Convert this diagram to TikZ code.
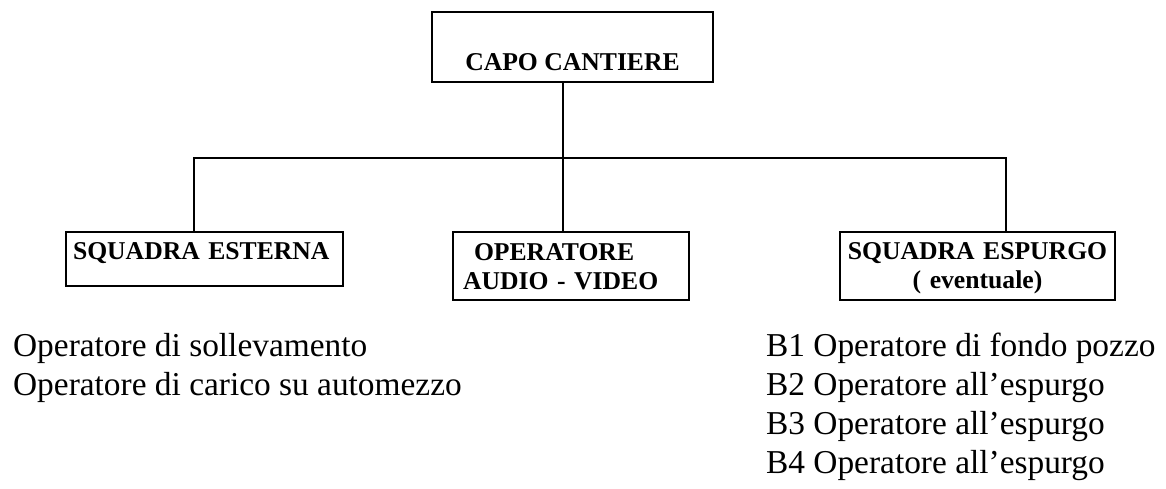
\documentclass[tikz,border=0pt]{standalone}
\usepackage{fontspec}
\setmainfont{Liberation Serif}
\usetikzlibrary{positioning,calc}

\begin{document}
\begin{tikzpicture}
   [x=0.02cm,y=-0.02cm,line width=1.3pt,
    box/.style={draw,rectangle,inner sep=0pt,font=\fontsize{14.6}{16.6}\bfseries\selectfont},
    item/.style={anchor=base west,inner sep=0pt,font=\fontsize{19}{22}\selectfont}]
\pgfmathsetmacro{\u}{0.02}
\useasboundingbox (0,0) rectangle (1166,488);

\node[box,minimum width=281*\u cm,minimum height=70*\u cm,text height=0.92cm,text depth=0pt]
   (capo) at (572.5,47) {CAPO CANTIERE};
\node[box,minimum width=277*\u cm,minimum height=54*\u cm,inner xsep=7*\u cm,text width=263*\u cm,
   align=left,text height=0.5cm,text depth=0.5cm] (esterna) at (204.5,259) {SQUADRA ESTERNA};
\node[box,minimum width=236*\u cm,minimum height=68*\u cm,inner xsep=10*\u cm,text width=216*\u cm,
   align=left,text height=0.5cm,text depth=0.74cm] (audio) at (571,266) {\hspace*{0.22cm}OPERATORE\\AUDIO - VIDEO};
\node[box,minimum width=275*\u cm,minimum height=68*\u cm,inner xsep=3*\u cm,text width=269*\u cm,
   align=center,text height=0.45cm,text depth=0.73cm] (espurgo) at (977.5,266) {SQUADRA ESPURGO\\( eventuale)};

\coordinate (busL) at (194,158);
\coordinate (busM) at (563,158);
\coordinate (busR) at (1006,158);
\draw (busL |- esterna.north) -- (busL) -- (busR) -- (busR |- espurgo.north);
\draw (busM |- capo.south) -- (busM |- audio.north);

\node[item] (sollev) at (12,356) {Operatore di sollevamento};
\node[item] (carico) at (12,395) {Operatore di carico su automezzo};

\node[item] (b1) at (765,356) {B1 Operatore di fondo pozzo};
\node[item] (b2) at (765,395) {B2 Operatore all’espurgo};
\node[item] (b3) at (765,434) {B3 Operatore all’espurgo};
\node[item] (b4) at (765,473) {B4 Operatore all’espurgo};
\end{tikzpicture}
\end{document}
